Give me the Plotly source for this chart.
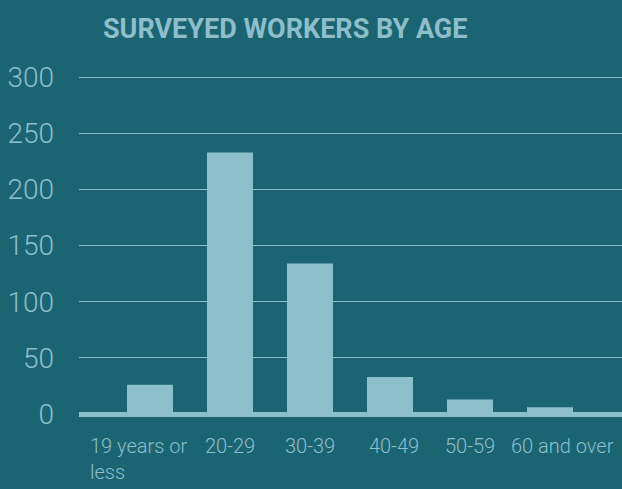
import plotly.graph_objects as go

categories = ["19 years or less", "20-29", "30-39", "40-49", "50-59", "60 and over"]
tick_labels = ["19 years or<br>less", "20-29", "30-39", "40-49", "50-59", "60 and over"]
values = [26, 233, 134, 33, 13, 6]
y_ticks = [0, 50, 100, 150, 200, 250, 300]
label_shift = [-12, 0, 0, 4, 0, 12]

BG = "#1b6573"
FG = "#8cbfca"
FONT = "Roboto, Inter, sans-serif"

fig = go.Figure(
    go.Bar(x=categories, y=values, marker=dict(color=FG, line=dict(width=0)), width=0.575)
)

for cat, lab, sh in zip(categories, tick_labels, label_shift):
    fig.add_annotation(
        x=cat, xref="x", y=0, yref="paper", yanchor="top", xanchor="center",
        text=lab, showarrow=False, align="left",
        font=dict(family=FONT, size=20, color=FG, weight=300), yshift=-18,
        xshift=sh,
    )

fig.add_annotation(
    x=(285 - 79) / (622 - 79), xref="paper", y=1, yref="paper",
    yanchor="bottom", xanchor="center", yshift=28, showarrow=False,
    text="SURVEYED WORKERS BY AGE",
    font=dict(family=FONT, size=27, color=FG, weight=700),
)

fig.update_layout(
    width=622, height=489,
    paper_bgcolor=BG, plot_bgcolor=BG,
    margin=dict(l=79, r=0, t=75, b=75),
    showlegend=False,
    xaxis=dict(showticklabels=False, showgrid=False, zeroline=False, showline=False,
               range=[-0.8875, 5.9], fixedrange=True),
    yaxis=dict(range=[0, 302], tickvals=y_ticks, showgrid=True, gridcolor=FG, gridwidth=1,
               zeroline=True, zerolinecolor=FG, zerolinewidth=5, showline=False,
               tickfont=dict(family=FONT, size=28, color=FG, weight=300), ticklabelstandoff=24),
)

fig.write_html("out.html")
